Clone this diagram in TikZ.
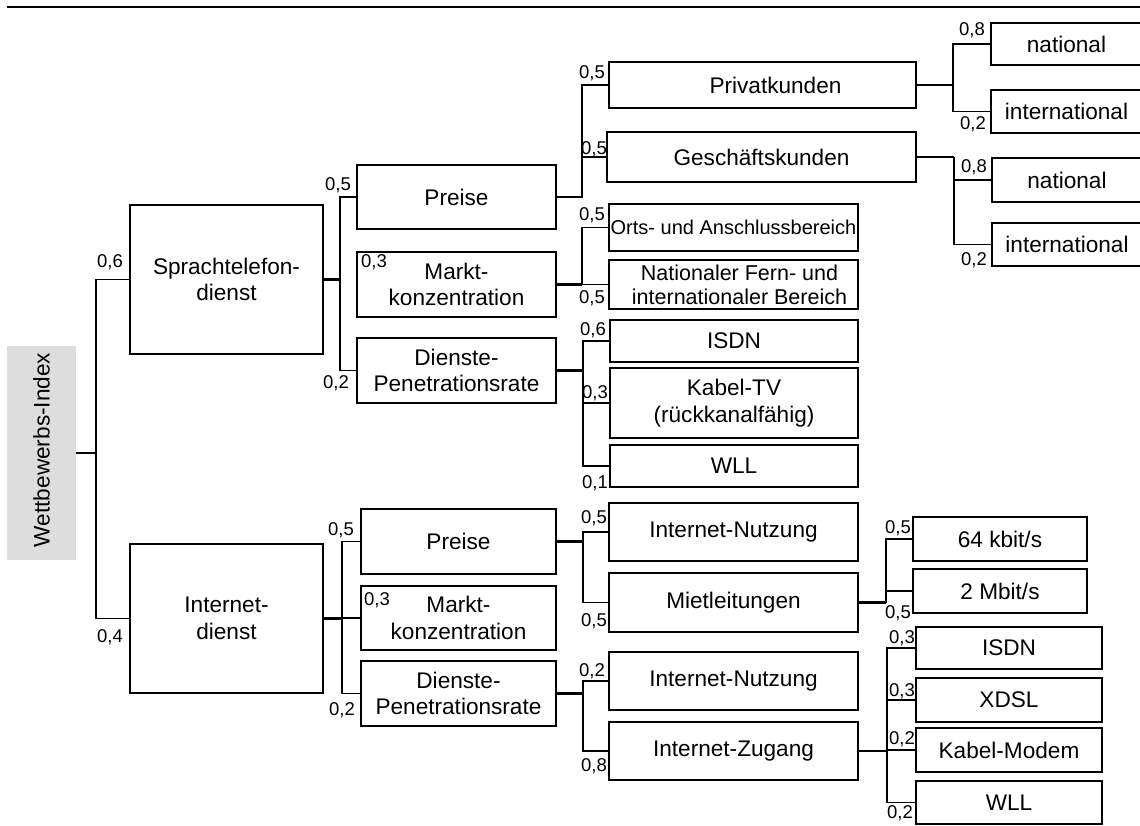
\documentclass[tikz,border=0pt]{standalone}
\usepackage{fontspec}
\setmainfont{Liberation Sans}
\definecolor{idxgray}{RGB}{221,221,221}
\begin{document}
\begin{tikzpicture}[x=1pt,y=-1pt,
  box/.style={draw, line width=1.6pt, inner sep=0pt, align=center,
    font=\fontsize{22.6pt}{26.5pt}\selectfont},
  wt/.style={inner sep=0pt, anchor=base east,
    font=\fontsize{18.5pt}{20pt}\selectfont},
  stub/.style={line width=2.3pt},
  branch/.style={line width=1.5pt}]
\useasboundingbox (0,0) rectangle (1140,826);

% top rule
\draw[line width=2.7pt] (7,7) -- (1142,7);

% root
\node[fill=idxgray, inner sep=0pt, minimum width=69pt, minimum height=214pt] (rootbox) at (41.5,453) {};
\node[rotate=90, inner sep=0pt, font=\fontsize{22.6pt}{26pt}\selectfont] (root) at (41.5,450) {Wettbewerbs-Index};

% level 1
\node[box, minimum width=193pt, minimum height=149pt] (sprach) at (226.5,279.5) {Sprachtelefon-\\dienst};
\node[box, minimum width=193pt, minimum height=149pt] (inet) at (226.5,618.5) {Internet-\\dienst};

% level 2, voice telephony
\node[box, minimum width=199pt, minimum height=64pt] (preis1) at (456.5,197) {Preise};
\node[box, minimum width=199pt, minimum height=65pt] (markt1) at (456.5,284.5) {Markt-\\konzentration};
\node[box, minimum width=199pt, minimum height=65pt] (dienst1) at (456.5,370.5) {Dienste-\\Penetrationsrate};

% level 2, internet
\node[box, minimum width=195pt, minimum height=65pt] (preis2) at (458.5,541.5) {Preise};
\node[box, minimum width=195pt, minimum height=64pt] (markt2) at (458.5,618) {Markt-\\konzentration};
\node[box, minimum width=195pt, minimum height=65pt] (dienst2) at (458.5,693.5) {Dienste-\\Penetrationsrate};

% level 3
\node[box, minimum width=307pt, minimum height=46pt] (privat) at (762.5,85) {\hspace*{26pt}Privatkunden};
\node[box, minimum width=309pt, minimum height=50pt] (gesch) at (761.5,157) {Geschäftskunden};
\node[box, minimum width=249pt, minimum height=47pt, font=\fontsize{20pt}{24pt}\selectfont] (orts) at (733.5,227.5) {Orts- und Anschlussbereich};
\node[box, minimum width=249pt, minimum height=49pt, font=\fontsize{21.5pt}{24pt}\selectfont] (natfern) at (733.5,284.5) {\hspace*{12pt}Nationaler Fern- und\\\hspace*{12pt}internationaler Bereich};
\node[box, minimum width=248pt, minimum height=42pt] (isdn1) at (734,341) {ISDN};
\node[box, minimum width=248pt, minimum height=70pt] (kabel) at (734,403) {Kabel-TV\\(rückkanalfähig)};
\node[box, minimum width=248pt, minimum height=42pt] (wll1) at (734,466) {WLL};
\node[box, minimum width=249pt, minimum height=58pt] (inu1) at (733.5,532) {Internet-Nutzung};
\node[box, minimum width=249pt, minimum height=59pt] (miet) at (733.5,602.5) {Mietleitungen};
\node[box, minimum width=249pt, minimum height=58pt] (inu2) at (733.5,681) {Internet-Nutzung};
\node[box, minimum width=249pt, minimum height=58pt] (zugang) at (733.5,751) {Internet-Zugang};

% level 4
\node[box, minimum width=151pt, minimum height=42pt] (nat1) at (1066.5,44) {national};
\node[box, minimum width=151pt, minimum height=43pt] (int1) at (1066.5,111.5) {international};
\node[box, minimum width=150pt, minimum height=44pt] (nat2) at (1067,180) {national};
\node[box, minimum width=150pt, minimum height=43pt] (int2) at (1067,244.5) {international};
\node[box, minimum width=174pt, minimum height=44pt] (k64) at (1000,539) {64 kbit/s};
\node[box, minimum width=174pt, minimum height=44pt] (m2) at (1000,591) {2 Mbit/s};
\node[box, minimum width=186pt, minimum height=42pt] (isdn2) at (1009,648) {ISDN};
\node[box, minimum width=186pt, minimum height=44pt] (xdsl) at (1009,700) {XDSL};
\node[box, minimum width=186pt, minimum height=44pt] (kmodem) at (1009,750) {Kabel-Modem};
\node[box, minimum width=186pt, minimum height=43pt] (wll2) at (1009,802.5) {WLL};

% junction columns
\coordinate (jR) at (96,0);
\coordinate (jS) at (340,0);
\coordinate (jI) at (342,0);
\coordinate (jP1) at (582,0);
\coordinate (jM1) at (582,0);
\coordinate (jD1) at (583,0);
\coordinate (jPk) at (953,0);
\coordinate (jGk) at (954,0);
\coordinate (jP2) at (583,0);
\coordinate (jD2) at (583,0);
\coordinate (jMl) at (886,0);
\coordinate (jZg) at (887,0);

% connectors
\draw[stub] (rootbox.east) -- (rootbox.east -| jR);
\draw[branch] (jR |- rootbox.east) |- (sprach.west);
\draw[branch] (jR |- rootbox.east) |- (inet.west);

\draw[stub] (sprach.east) -- (sprach.east -| jS);
\draw[branch] (jS |- sprach.east) |- (preis1.west);
\draw[branch] (jS |- sprach.east) |- (dienst1.west);

\draw[stub] (inet.east) -- (inet.east -| jI);
\draw[branch] (jI |- inet.east) |- (preis2.west);
\draw[branch] (jI |- inet.east) |- (markt2.west);
\draw[branch] (jI |- inet.east) |- (dienst2.west);

\draw[stub] (preis1.east) -- (preis1.east -| jP1) -- (jP1 |- gesch.west);
\draw[branch] (jP1 |- preis1.east) |- (privat.west);
\draw[branch] (jP1 |- preis1.east) |- (gesch.west);

\draw[stub] (markt1.east) -- (markt1.east -| jM1);
\draw[branch] (jM1 |- markt1.east) |- (orts.west);
\draw[branch] (jM1 |- markt1.east) |- (natfern.west);

\draw[stub] (dienst1.east) -- (dienst1.east -| jD1);
\draw[branch] (jD1 |- dienst1.east) |- (isdn1.west);
\draw[branch] (jD1 |- dienst1.east) |- (kabel.west);
\draw[branch] (jD1 |- dienst1.east) |- (wll1.west);

\draw[stub] (privat.east) -- (privat.east -| jPk);
\draw[branch] (jPk |- privat.east) |- (nat1.west);
\draw[branch] (jPk |- privat.east) |- (int1.west);

\draw[stub] (gesch.east) -- (gesch.east -| jGk);
\draw[branch] (jGk |- gesch.east) |- (nat2.west);
\draw[branch] (jGk |- gesch.east) |- (int2.west);

\draw[stub] (preis2.east) -- (preis2.east -| jP2);
\draw[branch] (jP2 |- preis2.east) |- (inu1.west);
\draw[branch] (jP2 |- preis2.east) |- (miet.west);

\draw[stub] (dienst2.east) -- (dienst2.east -| jD2);
\draw[branch] (jD2 |- dienst2.east) |- (inu2.west);
\draw[branch] (jD2 |- dienst2.east) |- (zugang.west);

\draw[stub] (miet.east) -- (miet.east -| jMl);
\draw[branch] (jMl |- miet.east) |- (k64.west);
\draw[branch] (jMl |- miet.east) |- (m2.west);

\draw[stub] (zugang.east) -- (zugang.east -| jZg);
\draw[branch] (jZg |- zugang.east) |- (isdn2.west);
\draw[branch] (jZg |- zugang.east) |- (xdsl.west);
\draw[branch] (jZg |- zugang.east) |- (kmodem.west);
\draw[branch] (jZg |- zugang.east) |- (wll2.west);

% weights
\node[wt] (w1) at (123,268) {0,6};
\node[wt] (w2) at (123,642) {0,4};
\node[wt] (w3) at (351,191) {0,5};
\node[wt] (w4) at (387,268) {0,3};
\node[wt] (w5) at (349,388) {0,2};
\node[wt] (w6) at (354,535) {0,5};
\node[wt] (w7) at (390,605) {0,3};
\node[wt] (w8) at (355,715) {0,2};
\node[wt] (w9) at (605,79) {0,5};
\node[wt] (w10) at (607,155) {0,5};
\node[wt] (w11) at (605,221) {0,5};
\node[wt] (w12) at (605,304) {0,5};
\node[wt] (w13) at (606,335) {0,6};
\node[wt] (w14) at (608,398) {0,3};
\node[wt] (w15) at (608,488) {0,1};
\node[wt] (w16) at (985,36) {0,8};
\node[wt] (w17) at (986,130) {0,2};
\node[wt] (w18) at (987,173) {0,8};
\node[wt] (w19) at (987,266) {0,2};
\node[wt] (w20) at (607,523) {0,5};
\node[wt] (w21) at (607,626) {0,5};
\node[wt] (w22) at (605,676) {0,2};
\node[wt] (w23) at (607,771) {0,8};
\node[wt] (w24) at (911,533) {0,5};
\node[wt] (w25) at (911,618) {0,5};
\node[wt] (w26) at (915,643) {0,3};
\node[wt] (w27) at (915,696) {0,3};
\node[wt] (w28) at (915,744) {0,2};
\node[wt] (w29) at (913,818) {0,2};
\end{tikzpicture}
\end{document}
